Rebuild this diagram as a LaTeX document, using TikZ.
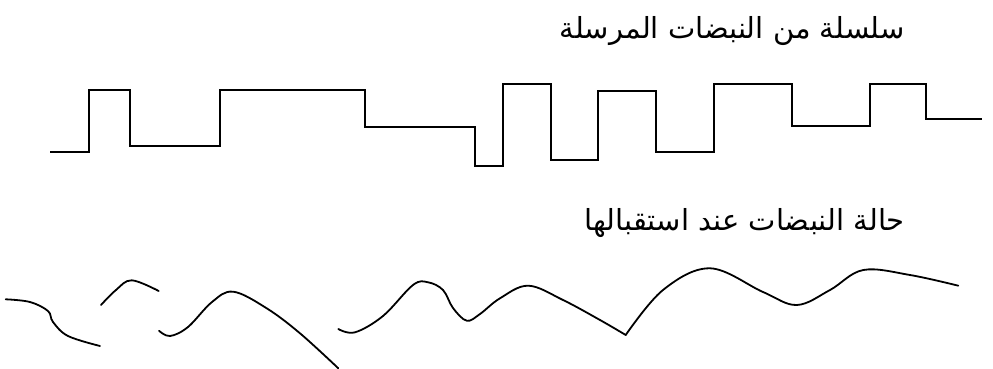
\documentclass[tikz,border=0pt]{standalone}
\usepackage{fontspec}
\newfontfamily\arabicfont[Script=Arabic]{DejaVu Sans}
\TeXXeTstate=1
\begin{document}
\begin{tikzpicture}[x=1pt,y=-1pt,
  wave/.style={line width=1.8pt,line join=miter},
  curvy/.style={line width=1.8pt,line cap=round},
  lbl/.style={font=\arabicfont\fontsize{29}{33}\selectfont,inner sep=0pt,anchor=base east}]
\useasboundingbox (0,0) rectangle (993,369);
% labels
\node[lbl] (t1) at (905,38.3) {\beginR سلسلة من النبضات المرسلة\endR};
\node[lbl] (t2) at (905,230) {\beginR حالة النبضات عند استقبالها\endR};
% transmitted pulses
\draw[wave] (50,152.3) -- (89,152.3) -- (89,90.3) -- (130,90.3) -- (130,145.7)
  -- (220.3,145.7) -- (220.3,90.3) -- (365.3,90.3) -- (365.3,126.7)
  -- (475.3,126.7) -- (475.3,166.3) -- (502.7,166.3) -- (502.7,83.7)
  -- (550.7,83.7) -- (550.7,159.7) -- (598.3,159.7) -- (598.3,90.7)
  -- (656,90.7) -- (656,151.7) -- (714.3,151.7) -- (714.3,83.7)
  -- (792.3,83.7) -- (792.3,126.3) -- (870,126.3) -- (870,83.7)
  -- (926.3,83.7) -- (926.3,118.7) -- (982.3,118.7);
% received pulses
\draw[curvy] plot[smooth,tension=0.6] coordinates {(5.7,299.3) (30,302) (48,311) (53,322) (68,336) (100,346)};
\draw[curvy] plot[smooth,tension=0.6] coordinates {(101,305) (116,290) (131.7,280.3) (158.7,291)};
\draw[curvy] plot[smooth,tension=0.6] coordinates {(159,330.7) (170,336) (188,327) (212,302) (233.3,291.7) (266.7,308.3) (300,333.3) (338.3,368.3)};
\draw[curvy] plot[smooth,tension=0.6] coordinates {(338.3,329) (355,332.3) (383,316) (413,285) (428,282.3) (443,290) (453,308) (466.7,320.7) (480,314) (500,298.3) (528.3,285.7) (563,300) (600,320) (625.7,335)};
\draw[curvy] plot[smooth,tension=0.6] coordinates {(625.7,335) (663,290) (710,268.3) (763,292) (796.7,305) (830,290) (863.3,270) (910,275) (958.3,285.7)};
\end{tikzpicture}
\end{document}
